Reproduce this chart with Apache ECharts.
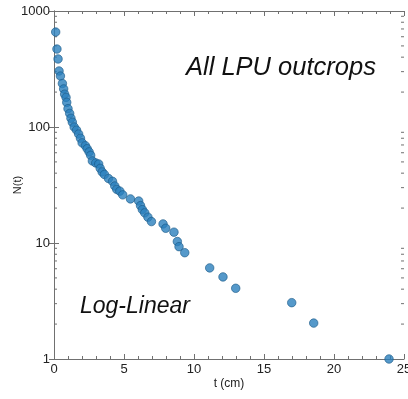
<!DOCTYPE html>
<html><head><meta charset="utf-8">
<script src="https://cdn.jsdelivr.net/npm/echarts@6/dist/echarts.min.js"></script>
<style>html,body{margin:0;padding:0;background:#fff}#c{width:408px;height:399px}</style>
</head><body><div id="c"></div>
<script>
// t (cm) values and N(t) values
const tValues = [0.12,0.21,0.29,0.36,0.46,0.60,0.69,0.76,0.86,0.91,1.00,1.12,1.21,1.31,1.44,1.61,1.76,1.89,2.01,2.24,2.37,2.51,2.62,2.74,2.98,3.19,3.30,3.44,3.60,3.89,4.18,4.34,4.48,4.70,4.91,5.46,6.05,6.18,6.31,6.48,6.71,6.96,7.79,7.98,8.57,8.81,8.93,9.34,11.12,12.07,12.98,16.98,18.55,23.93];
const nValues = [659,470,386,304,275,237,213,192,180,163,144,131,119,110,100,94,87,80,73,69,65,61,57,51,49,48,44,41,39,36,34,31,29,28,26,24,23,21,19.4,18.2,16.7,15.3,14.6,13.4,12.4,10.3,9.3,8.25,6.1,5.1,4.07,3.06,2.04,1];
const xTicks = [0,5,10,15,20,25];
const yTicks = [1,10,100,1000];

const points = tValues.map((t,i)=>[t,nValues[i]]);
const chart = echarts.init(document.getElementById('c'), null, {renderer:'canvas'});
const font = 'Liberation Sans, Arial, sans-serif';
const axisCol = '#707070';
const labelCol = '#222';

chart.setOption({
  animation:false,
  backgroundColor:'#fff',
  grid:{left:54,right:4,top:11,bottom:40,containLabel:false,outerBoundsMode:'none'},
  xAxis:[{
    type:'value', min:xTicks[0], max:xTicks[xTicks.length-1], interval:5, position:'bottom',
    axisLine:{show:true,lineStyle:{color:axisCol,width:1}},
    axisTick:{show:true,inside:true,length:5,lineStyle:{color:axisCol}},
    minorTick:{show:true,splitNumber:5,length:3,lineStyle:{color:axisCol}},
    axisLabel:{color:labelCol,fontSize:13,fontFamily:font,margin:4},
    splitLine:{show:false},
    name:'t (cm)', nameLocation:'middle', nameGap:19, nameMoveOverlap:false,
    nameTextStyle:{color:labelCol,fontSize:12,fontFamily:font}
  },{
    type:'value', min:0, max:25, interval:5, position:'top',
    axisLine:{show:true,lineStyle:{color:axisCol,width:1}},
    axisTick:{show:true,inside:true,length:5,lineStyle:{color:axisCol}},
    minorTick:{show:true,splitNumber:5,length:3,lineStyle:{color:axisCol}},
    axisLabel:{show:false}, splitLine:{show:false}
  }],
  yAxis:[{
    type:'log', logBase:10, min:yTicks[0], max:yTicks[yTicks.length-1], position:'left',
    axisLine:{show:true,lineStyle:{color:axisCol,width:1}},
    axisTick:{show:true,inside:true,length:5,lineStyle:{color:axisCol}},
    axisLabel:{color:labelCol,fontSize:13,fontFamily:font,margin:4,formatter:v=>String(Math.round(v))},
    splitLine:{show:false},
    name:'N(t)', nameLocation:'middle', nameGap:31, nameRotate:90, nameMoveOverlap:false,
    nameTextStyle:{color:labelCol,fontSize:11,fontFamily:font}
  },{
    type:'log', logBase:10, min:1, max:1000, position:'right',
    axisLine:{show:true,lineStyle:{color:axisCol,width:1}},
    axisTick:{show:true,inside:true,length:5,lineStyle:{color:axisCol}},
    axisLabel:{show:false}, splitLine:{show:false}
  }],
  series:[{
    type:'scatter', xAxisIndex:0, yAxisIndex:0, data:points,
    symbol:'circle', symbolSize:8.5,
    itemStyle:{color:'#2a7fbd',borderColor:'#1b5a88',borderWidth:0.8}
  }]
});

// minor log ticks (2..9 per decade) placed through the axis scales
const g = [];
const xl = chart.convertToPixel({xAxisIndex:0}, 0);
const xr = chart.convertToPixel({xAxisIndex:0}, 25);
for (let d=1; d<1000; d*=10){
  for (let k=2;k<=9;k++){
    const y = chart.convertToPixel({yAxisIndex:0}, d*k);
    g.push({type:'line',shape:{x1:xl,y1:y,x2:xl+3,y2:y},style:{stroke:axisCol,lineWidth:1},silent:true});
    g.push({type:'line',shape:{x1:xr,y1:y,x2:xr-3,y2:y},style:{stroke:axisCol,lineWidth:1},silent:true});
  }
}
g.push({type:'text',left:186,top:55,style:{text:'All LPU outcrops',fontSize:25.5,fontStyle:'italic',fontFamily:font,fill:'#111'}});
g.push({type:'text',left:80,top:295,style:{text:'Log-Linear',fontSize:23,fontStyle:'italic',fontFamily:font,fill:'#111'}});
chart.setOption({graphic:g});
</script>
</body></html>
